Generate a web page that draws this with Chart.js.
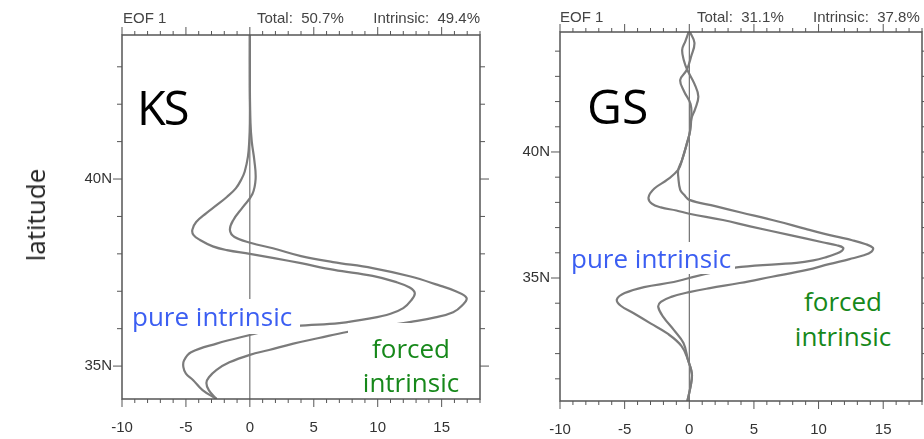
<!DOCTYPE html>
<html lang="en">
<head>
<meta charset="UTF-8">
<title>EOF 1 - KS / GS</title>
<script src="https://cdn.jsdelivr.net/npm/chart.js"></script>
<style>
  body { margin: 0; background: #fff; }
  #wrap { position: relative; width: 924px; height: 439px; overflow: hidden; font-family: "Liberation Sans", Arial, sans-serif; }
  canvas { position: absolute; top: 0; }
  .hdr { position: absolute; font-size: 15px; line-height: 15px; color: #444; white-space: pre; }
  .note { position: absolute; font-family: "Open Sans", sans-serif; background: #fff; white-space: pre; }
  .big { position: absolute; font-family: "Open Sans", sans-serif; color: #000; line-height: 1; }
</style>
</head>
<body>
<div id="wrap">
  <canvas id="ks" width="500" height="439" style="left:0"></canvas>
  <canvas id="gs" width="424" height="439" style="left:500px"></canvas>

  <!-- headers -->
  <div class="hdr" style="left:123px; top:10px">EOF 1</div>
  <div class="hdr" style="left:257px; top:10px">Total:  50.7%</div>
  <div class="hdr" style="right:444px; top:10px">Intrinsic:  49.4%</div>
  <div class="hdr" style="left:560px; top:9px">EOF 1</div>
  <div class="hdr" style="left:697px; top:9px">Total:  31.1%</div>
  <div class="hdr" style="left:813px; top:9px">Intrinsic:  37.8%</div>

  <!-- annotations -->
  <div class="big" style="left:35px; top:215px; font-size:26px; color:#222; transform:translate(-50%,-50%) rotate(-90deg)">latitude</div>
  <div class="big" style="left:137px; top:84px; font-size:47px; letter-spacing:-2px">KS</div>
  <div class="big" style="left:587px; top:82px; font-size:48px">GS</div>
  <div class="note" style="left:130px; top:299px; width:168px; height:35px; line-height:35px; font-size:26px; color:#3b5ef2; padding-left:2px">pure intrinsic</div>
  <div class="note" style="left:348px; top:323px; width:126px; height:74px; line-height:34px; font-size:26px; color:#16881a; text-align:center; padding-top:8px; box-sizing:border-box">forced
intrinsic</div>
  <div class="note" style="left:570px; top:242px; width:164px; height:32px; line-height:32px; font-size:26px; color:#3b5ef2; padding-left:1px">pure intrinsic</div>
  <div class="note" style="left:773px; top:280px; width:140px; height:75px; line-height:35px; font-size:26px; color:#16881a; text-align:center; padding-top:4px; box-sizing:border-box">forced
intrinsic</div>
</div>

<script>
// tick values and labels
const xTicks = [-10, -5, 0, 5, 10, 15];
const xTickLabels = ['-10', '-5', '0', '5', '10', '15'];
const latTicks = [35, 40];
const latTickLabels = ['35N', '40N'];

// KS panel (latitude -> EOF amplitude)
const ksPureLat = [43.85, 42.5, 41.5, 41.0, 40.6, 40.2, 40.0, 39.75, 39.52, 39.3, 39.09, 38.85, 38.64, 38.5, 38.37, 38.2, 38.1, 38.0, 37.88, 37.75, 37.57, 37.41, 37.25, 37.1, 36.95, 36.75, 36.55, 36.4, 36.28, 36.15, 36.07, 35.95, 35.83, 35.6, 35.37, 35.15, 34.97, 34.8, 34.63, 34.36, 34.12];
const ksPure = [0, 0, 0, -0.05, -0.15, -0.4, -0.65, -1.1, -1.8, -2.6, -3.4, -4.2, -4.5, -4.4, -3.9, -2.9, -1.8, 0, 2.0, 4.0, 6.6, 9.6, 11.4, 12.5, 12.9, 12.6, 12.0, 11.0, 9.5, 7.0, 3.6, 1.5, 0, -2.6, -4.6, -5.15, -5.2, -5.0, -4.45, -3.7, -2.6];
const ksForcedLat = [43.85, 42.5, 41.5, 41.0, 40.5, 40.0, 39.6, 39.25, 38.9, 38.64, 38.45, 38.29, 38.15, 37.94, 37.78, 37.62, 37.4, 37.17, 37.0, 36.82, 36.62, 36.44, 36.3, 36.18, 36.05, 35.91, 35.75, 35.6, 35.43, 35.3, 35.1, 34.9, 34.7, 34.55, 34.35, 34.12];
const ksForced = [0, 0, 0.05, 0.15, 0.35, 0.45, 0.2, -0.55, -1.3, -1.56, -1.2, 0.1, 1.8, 4.0, 6.5, 9.6, 12.5, 14.7, 16.1, 16.95, 16.6, 15.9, 14.5, 12.6, 10.2, 7.6, 5.4, 3.4, 1.5, 0, -1.6, -2.6, -3.2, -3.4, -3.2, -2.6];

// GS panel
const gsPureLat = [44.76, 44.33, 43.8, 43.25, 42.86, 42.4, 41.9, 41.3, 40.8, 40.4, 39.7, 39.3, 38.9, 38.55, 38.2, 37.95, 37.8, 37.68, 37.55, 37.3, 37.05, 36.7, 36.42, 36.3, 36.2, 36.08, 35.95, 35.83, 35.7, 35.6, 35.44, 35.22, 35.0, 34.84, 34.64, 34.4, 34.15, 33.9, 33.6, 33.2, 32.8, 32.3, 31.75, 31.2, 30.7, 30.12];
const gsPure = [0.05, 0.4, 0.15, -0.2, -0.7, -0.4, 0.1, 0.15, 0.05, -0.15, -0.55, -0.85, -1.7, -2.7, -3.15, -2.9, -2.2, -1.0, 0, 2.6, 4.7, 7.8, 10.3, 11.4, 11.9, 11.8, 11.3, 10.6, 9.6, 8.3, 4.0, 1.8, 0, -1.2, -3.5, -5.0, -5.6, -5.3, -4.3, -3.0, -1.7, -0.6, -0.1, 0.2, 0.1, -0.15];
const gsForcedLat = [44.76, 44.4, 44.05, 43.6, 43.25, 42.7, 42.2, 41.7, 41.3, 40.8, 40.4, 39.7, 39.3, 39.0, 38.5, 38.3, 38.1, 37.85, 37.6, 37.25, 36.95, 36.65, 36.5, 36.35, 36.2, 36.05, 35.9, 35.75, 35.55, 35.32, 35.05, 34.8, 34.6, 34.44, 34.25, 34.05, 33.85, 33.45, 32.94, 32.42, 31.75, 31.2, 30.7, 30.12];
const gsForced = [-0.05, -0.3, -0.55, -0.4, -0.15, 0.4, 0.7, 0.45, 0.15, 0.05, -0.15, -0.55, -0.85, -0.85, -0.7, -0.4, 0, 2.0, 4.0, 6.8, 9.0, 11.3, 12.6, 13.6, 14.2, 14.1, 13.5, 12.4, 10.8, 9.1, 6.4, 3.9, 1.6, 0, -1.4, -2.2, -2.4, -2.0, -1.2, -0.45, -0.1, 0.2, 0.1, -0.15];

const pts = (lat, val) => lat.map((l, i) => ({ x: val[i], y: l }));

// frame box + outward tick marks on all four sides
const frameTicks = {
  id: 'frameTicks',
  afterDatasetsDraw(chart) {
    const { ctx, chartArea: a, scales: { x, y } } = chart;
    ctx.save();
    ctx.strokeStyle = '#555';
    ctx.lineWidth = 1.5;
    ctx.strokeRect(a.left, a.top, a.right - a.left, a.bottom - a.top);
    ctx.lineWidth = 1;
    ctx.beginPath();
    for (let v = Math.ceil(x.min); v <= x.max; v++) {
      const p = x.getPixelForValue(v);
      const len = v % 5 === 0 ? 8 : 4;
      ctx.moveTo(p, a.bottom); ctx.lineTo(p, a.bottom + len);
      ctx.moveTo(p, a.top); ctx.lineTo(p, a.top - len);
    }
    for (let v = Math.ceil(y.min); v <= y.max; v++) {
      const p = y.getPixelForValue(v);
      const len = v % 5 === 0 ? 9 : 5;
      ctx.moveTo(a.left, p); ctx.lineTo(a.left - len, p);
      ctx.moveTo(a.right, p); ctx.lineTo(a.right + len, p);
    }
    ctx.stroke();
    ctx.restore();
  }
};

function curve(lat, val) {
  return {
    data: pts(lat, val),
    borderColor: '#7b7b7b',
    borderWidth: 2.2,
    pointRadius: 0,
    tension: 0.4
  };
}

function drawPanel(id, curves, latMin, latMax, pad, yWidth, xHeight) {
  new Chart(document.getElementById(id), {
    type: 'line',
    data: {
      datasets: [
        ...curves,
        { data: [{ x: 0, y: latMin }, { x: 0, y: latMax }], borderColor: '#555', borderWidth: 1, pointRadius: 0 }
      ]
    },
    options: {
      indexAxis: 'y',
      responsive: false,
      animation: false,
      events: [],
      layout: { padding: pad },
      plugins: { legend: { display: false }, tooltip: { enabled: false } },
      scales: {
        x: {
          type: 'linear', position: 'bottom', min: -10, max: 18,
          grid: { display: false, drawTicks: false },
          border: { display: false },
          afterBuildTicks: s => { s.ticks = xTicks.map(v => ({ value: v })); },
          afterFit: s => { s.height = xHeight; },
          ticks: { padding: 20, color: '#333', font: { family: 'Liberation Sans', size: 15 }, callback: (v, i) => xTickLabels[i] }
        },
        y: {
          type: 'linear', position: 'left', min: latMin, max: latMax,
          grid: { display: false, drawTicks: false },
          border: { display: false },
          afterBuildTicks: s => { s.ticks = latTicks.map(v => ({ value: v })); },
          afterFit: s => { s.width = yWidth; },
          ticks: { padding: 10, color: '#333', font: { family: 'Liberation Sans', size: 15 }, callback: (v, i) => latTickLabels[i] }
        }
      }
    },
    plugins: [frameTicks]
  });
}

drawPanel('ks', [curve(ksPureLat, ksPure), curve(ksForcedLat, ksForced)], 34.12, 43.85,
  { top: 35, right: 20, bottom: 0, left: 0 }, 122, 40);
drawPanel('gs', [curve(gsPureLat, gsPure), curve(gsForcedLat, gsForced)], 30.12, 44.76,
  { top: 32, right: 2, bottom: 0, left: 0 }, 60, 38);
</script>
</body>
</html>
